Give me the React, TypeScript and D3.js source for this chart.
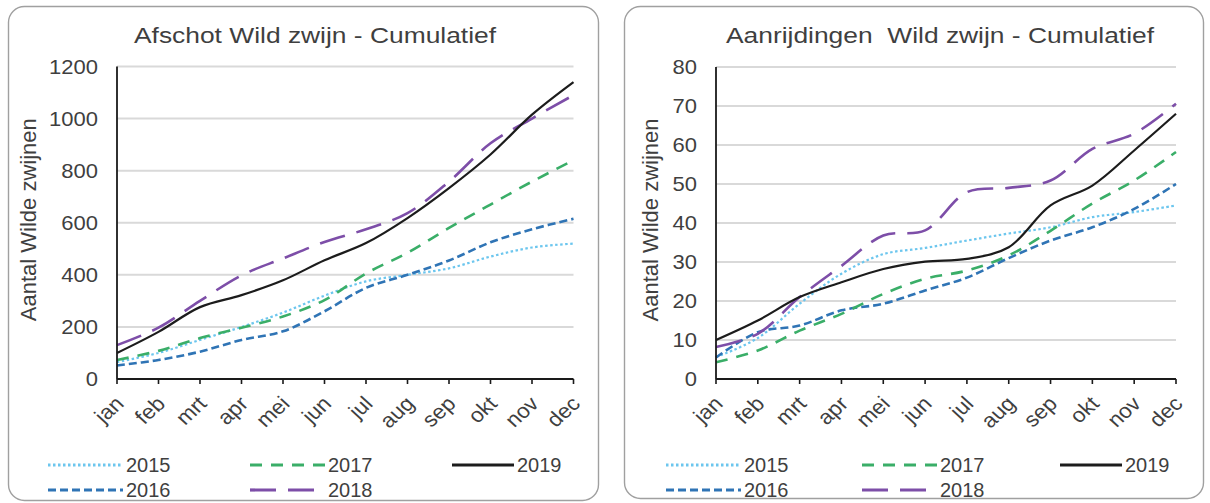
import React from "react";
import * as d3 from "d3";

// ---------- data ----------
const MONTHS = ["jan", "feb", "mrt", "apr", "mei", "jun", "jul", "aug", "sep", "okt", "nov", "dec"];
const YEARS = ["2015", "2016", "2017", "2018", "2019"];

// Afschot (cumulative shot wild boar)
const AFSCHOT_2015 = [65, 100, 150, 200, 255, 320, 375, 400, 425, 470, 505, 520];
const AFSCHOT_2016 = [52, 73, 105, 150, 183, 260, 350, 400, 455, 525, 575, 615];
const AFSCHOT_2017 = [73, 108, 157, 197, 240, 303, 405, 485, 580, 670, 758, 840];
const AFSCHOT_2018 = [130, 197, 300, 398, 463, 526, 575, 637, 758, 905, 1000, 1090];
const AFSCHOT_2019 = [100, 181, 276, 322, 379, 456, 522, 618, 733, 862, 1015, 1140];

// Aanrijdingen (cumulative road collisions)
const AANRIJ_2015 = [5.6, 10.5, 19.3, 27, 32, 33.6, 35.5, 37.3, 38.9, 41.5, 42.8, 44.5];
const AANRIJ_2016 = [5.5, 12, 13.7, 17.6, 19.3, 22.7, 26, 31, 35.5, 38.9, 43.6, 50];
const AANRIJ_2017 = [4.3, 7.3, 12.4, 16.7, 21.8, 25.7, 27.8, 31.7, 38, 45, 50.9, 58.2];
const AANRIJ_2018 = [8.2, 11.6, 21, 29, 36.8, 38.1, 47.9, 49, 50.9, 59, 62.9, 70.6];
const AANRIJ_2019 = [10, 15, 21, 24.8, 28.2, 30.1, 30.8, 33.8, 44.5, 49.6, 58.6, 68];

const AFSCHOT_TICKS = [0, 200, 400, 600, 800, 1000, 1200];
const AANRIJ_TICKS = [0, 10, 20, 30, 40, 50, 60, 70, 80];

const AFSCHOT_SERIES = [AFSCHOT_2015, AFSCHOT_2016, AFSCHOT_2017, AFSCHOT_2018, AFSCHOT_2019];
const AANRIJ_SERIES = [AANRIJ_2015, AANRIJ_2016, AANRIJ_2017, AANRIJ_2018, AANRIJ_2019];

// ---------- styles ----------
const COLORS = ["#6cc6ee", "#2f74b5", "#3aae68", "#7d4ea8", "#1c1c1c"];
const DASHES = ["2.5 2.5", "8 4", "12 9", "26 12", ""];
const WIDTHS = [2.2, 2.6, 2.6, 2.6, 2.2];
const FONT = "'Liberation Sans', Arial, Helvetica, sans-serif";
const TEXT = "#3f3f3f";

type PanelCfg = {
  box: [number, number, number, number];
  x0: number;
  x1: number;
  y0: number;
  y1: number;
  yMax: number;
  ticks: number[];
  series: number[][];
  title: string;
  titleX: number;
  yTitleX: number;
  legendCols: number[];
};

const PANELS: PanelCfg[] = [
  {
    box: [8, 6, 598, 500],
    x0: 117,
    x1: 573.5,
    y0: 379,
    y1: 66.5,
    yMax: 1200,
    ticks: AFSCHOT_TICKS,
    series: AFSCHOT_SERIES,
    title: "Afschot Wild zwijn - Cumulatief",
    titleX: 315,
    yTitleX: 28,
    legendCols: [48, 250, 452],
  },
  {
    box: [624, 6, 1203, 498],
    x0: 716,
    x1: 1176,
    y0: 379,
    y1: 67,
    yMax: 80,
    ticks: AANRIJ_TICKS,
    series: AANRIJ_SERIES,
    title: "Aanrijdingen  Wild zwijn - Cumulatief",
    titleX: 940,
    yTitleX: 650,
    legendCols: [666, 862, 1060],
  },
];

function Panel({ cfg }: { cfg: PanelCfg }) {
  const x = d3.scalePoint<string>().domain(MONTHS).range([cfg.x0, cfg.x1]);
  const y = d3.scaleLinear().domain([0, cfg.yMax]).range([cfg.y0, cfg.y1]);
  const line = d3
    .line<number>()
    .x((_, i) => x(MONTHS[i]) as number)
    .y((d) => y(d))
    .curve(d3.curveCatmullRom.alpha(0.5));
  const [bx0, by0, bx1, by1] = cfg.box;
  const legendRows = [465, 490];
  // legend order: col0: 2015/2016, col1: 2017/2018, col2: 2019
  const legendPos = [
    [0, 0],
    [0, 1],
    [1, 0],
    [1, 1],
    [2, 0],
  ];
  return (
    <g fontFamily={FONT} fill={TEXT}>
      <rect
        x={bx0 + 0.5}
        y={by0 + 0.5}
        width={bx1 - bx0}
        height={by1 - by0}
        rx={16}
        ry={16}
        fill="#ffffff"
        stroke="#a0a0a0"
        strokeWidth={1.4}
      />
      <text
        transform={`translate(${cfg.titleX},43) scale(1.2,1)`}
        textAnchor="middle"
        fontSize={22}
        style={{ whiteSpace: "pre" }}
      >
        {cfg.title}
      </text>
      {/* gridlines */}
      {cfg.ticks.map((t) =>
        t === 0 ? null : (
          <line key={"g" + t} x1={cfg.x0} x2={cfg.x1} y1={y(t)} y2={y(t)} stroke="#d9d9d9" strokeWidth={2} />
        )
      )}
      {/* y tick labels */}
      {cfg.ticks.map((t) => (
        <text
          key={"yt" + t}
          transform={`translate(${cfg.x0 - 19},${y(t)}) scale(1.1,1)`}
          textAnchor="end"
          dominantBaseline="central"
          fontSize={20}
        >
          {t}
        </text>
      ))}
      {/* y axis title */}
      <text
        transform={`translate(${cfg.yTitleX},${(cfg.y0 + cfg.y1) / 2 - 3}) rotate(-90)`}
        textAnchor="middle"
        dominantBaseline="central"
        fontSize={22}
      >
        Aantal Wilde zwijnen
      </text>
      {/* series */}
      {cfg.series.map((s, i) => (
        <path
          key={"s" + i}
          d={line(s) as string}
          fill="none"
          stroke={COLORS[i]}
          strokeWidth={WIDTHS[i]}
          strokeDasharray={DASHES[i]}
          strokeLinejoin="round"
        />
      ))}
      {/* axes */}
      <line x1={cfg.x0} x2={cfg.x0} y1={cfg.y1} y2={cfg.y0} stroke="#1a1a1a" strokeWidth={1.8} />
      <line x1={cfg.x0} x2={cfg.x1} y1={cfg.y0} y2={cfg.y0} stroke="#1a1a1a" strokeWidth={1.8} />
      {MONTHS.map((m) => (
        <line
          key={"xt" + m}
          x1={x(m)}
          x2={x(m)}
          y1={cfg.y0}
          y2={cfg.y0 + 5}
          stroke="#1a1a1a"
          strokeWidth={1.6}
        />
      ))}
      {MONTHS.map((m) => (
        <text
          key={"xl" + m}
          transform={`translate(${(x(m) as number) + 8},${cfg.y0 + 26}) scale(1.1,1) rotate(-45)`}
          textAnchor="end"
          fontSize={20.5}
        >
          {m}
        </text>
      ))}
      {/* legend */}
      {YEARS.map((yr, i) => {
        const [c, r] = legendPos[i];
        const lx = cfg.legendCols[c];
        const ly = legendRows[r];
        const len = c === 2 ? 62 : 75;
        return (
          <g key={"lg" + yr}>
            <line
              x1={lx}
              x2={lx + len}
              y1={ly}
              y2={ly}
              stroke={COLORS[i]}
              strokeWidth={WIDTHS[i] + 0.6}
              strokeDasharray={DASHES[i]}
            />
            <text x={lx + len + 3} y={ly} dominantBaseline="central" fontSize={20}>
              {yr}
            </text>
          </g>
        );
      })}
    </g>
  );
}

export default function App() {
  return (
    <svg
      width={1210}
      height={503}
      viewBox="0 0 1210 503"
      style={{ position: "absolute", left: 0, top: 0, background: "#ffffff" }}
    >
      <rect x={0} y={0} width={1210} height={503} fill="#ffffff" />
      {PANELS.map((p, i) => (
        <Panel key={i} cfg={p} />
      ))}
    </svg>
  );
}
